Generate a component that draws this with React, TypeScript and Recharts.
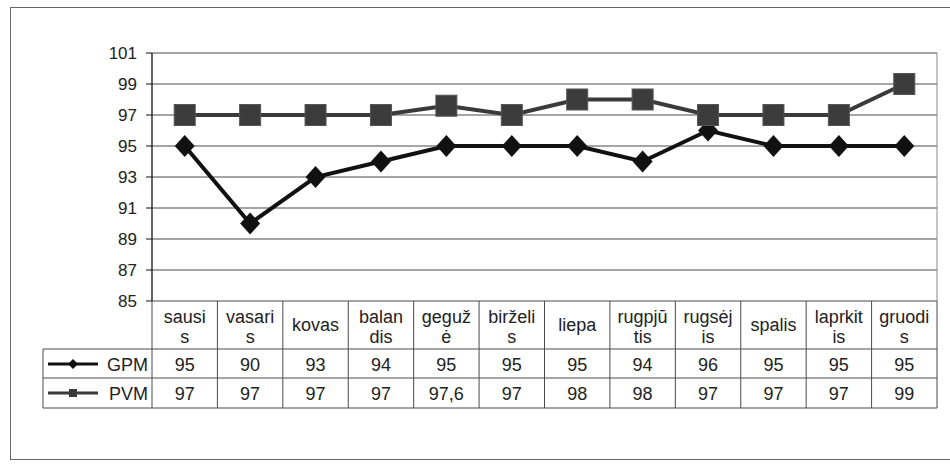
import { LineChart, Line, XAxis, YAxis, CartesianGrid } from 'recharts';

// months (full names) and how they wrap in the data table header
const months = ['sausis', 'vasaris', 'kovas', 'balandis', 'gegužė', 'birželis', 'liepa', 'rugpjūtis', 'rugsėjis', 'spalis', 'laprkitis', 'gruodis'];
const headerLines = [
  ['sausi', 's'], ['vasari', 's'], ['kovas'], ['balan', 'dis'], ['geguž', 'ė'], ['birželi', 's'],
  ['liepa'], ['rugpjū', 'tis'], ['rugsėj', 'is'], ['spalis'], ['laprkit', 'is'], ['gruodi', 's'],
];
const gpm = [95, 90, 93, 94, 95, 95, 95, 94, 96, 95, 95, 95];
const pvm = [97, 97, 97, 97, 97.6, 97, 98, 98, 97, 97, 97, 99];
const yTicks = [85, 87, 89, 91, 93, 95, 97, 99, 101];

const data = months.map((m, i) => ({ month: m, GPM: gpm[i], PVM: pvm[i] }));

const FONT = '"Liberation Sans", Arial, sans-serif';
const PLOT_LEFT = 152;
const PLOT_RIGHT = 937;
const BAND = (PLOT_RIGHT - PLOT_LEFT) / months.length;
// table rows
const T_TOP = 301;
const T_HEAD = 349;
const T_GPM = 378;
const T_PVM = 408;
const LEGEND_LEFT = 43;
const GRID = '#4a4a4a';
const TXT = '#222';
const FS = 18;

const fmt = (v: number) => String(v).replace('.', ',');

function TableTick(props: any) {
  const { x, index, payload } = props;
  const half = payload && payload.offset ? payload.offset : BAND / 2;
  const left = x - half;
  const right = x + half;
  const lines = headerLines[index] || [payload.value];
  const last = index === months.length - 1;
  return (
    <g style={{ fontFamily: FONT }}>
      <line x1={left} y1={T_TOP} x2={left} y2={T_PVM} stroke={GRID} strokeWidth={1} />
      {last && <line x1={right} y1={T_TOP} x2={right} y2={T_PVM} stroke={GRID} strokeWidth={1} />}
      <line x1={left} y1={T_HEAD} x2={right} y2={T_HEAD} stroke={GRID} strokeWidth={1} />
      <line x1={left} y1={T_GPM} x2={right} y2={T_GPM} stroke={GRID} strokeWidth={1} />
      <line x1={left} y1={T_PVM} x2={right} y2={T_PVM} stroke={GRID} strokeWidth={1} />
      {lines.length === 2 ? (
        <>
          <text x={x} y={323} textAnchor="middle" fontSize={FS} fill={TXT}>{lines[0]}</text>
          <text x={x} y={343} textAnchor="middle" fontSize={FS} fill={TXT}>{lines[1]}</text>
        </>
      ) : (
        <text x={x} y={331} textAnchor="middle" fontSize={FS} fill={TXT}>{lines[0]}</text>
      )}
      <text x={x} y={371} textAnchor="middle" fontSize={FS} fill={TXT}>{fmt(gpm[index])}</text>
      <text x={x} y={400} textAnchor="middle" fontSize={FS} fill={TXT}>{fmt(pvm[index])}</text>
      {index === 0 && (
        <g>
          <line x1={LEGEND_LEFT} y1={T_HEAD} x2={left} y2={T_HEAD} stroke={GRID} strokeWidth={1} />
          <line x1={LEGEND_LEFT} y1={T_GPM} x2={left} y2={T_GPM} stroke={GRID} strokeWidth={1} />
          <line x1={LEGEND_LEFT} y1={T_PVM} x2={left} y2={T_PVM} stroke={GRID} strokeWidth={1} />
          <line x1={LEGEND_LEFT} y1={T_HEAD} x2={LEGEND_LEFT} y2={T_PVM} stroke={GRID} strokeWidth={1} />
          {/* GPM key */}
          <line x1={48} y1={364} x2={98} y2={364} stroke="#111" strokeWidth={3} />
          <path d="M73,359 L78,364 L73,369 L68,364 Z" fill="#111" />
          <text x={148} y={371} textAnchor="end" fontSize={FS} fill={TXT}>GPM</text>
          {/* PVM key */}
          <line x1={48} y1={393} x2={98} y2={393} stroke="#3a3a3a" strokeWidth={3} />
          <rect x={69} y={389} width={8} height={8} fill="#3a3a3a" />
          <text x={148} y={400} textAnchor="end" fontSize={FS} fill={TXT}>PVM</text>
        </g>
      )}
    </g>
  );
}

const renderDiamond = (p: any) => {
  if (p.cx == null || p.cy == null) return <g key={p.index} />;
  const r = 11;
  return (
    <path
      key={`d-${p.index}`}
      d={`M${p.cx},${p.cy - r} L${p.cx + r - 1},${p.cy} L${p.cx},${p.cy + r} L${p.cx - r + 1},${p.cy} Z`}
      fill="#111"
    />
  );
};

const renderSquare = (p: any) => {
  if (p.cx == null || p.cy == null) return <g key={p.index} />;
  const s = 21;
  return <rect key={`s-${p.index}`} x={p.cx - s / 2} y={p.cy - s / 2} width={s} height={s} fill="#3c3c3c" stroke="#555" strokeWidth={1} />;
};

export default function App() {
  return (
    <div style={{ position: 'absolute', left: 0, top: 0, width: 950, height: 466, background: '#fff', overflow: 'hidden' }}>
      <div style={{ position: 'absolute', left: 10, top: 7, width: 960, height: 451, border: '1.5px solid #666' }} />
      <div style={{ position: 'absolute', left: 0, top: 0 }}>
        <LineChart width={950} height={466} data={data} margin={{ top: 53, right: 950 - PLOT_RIGHT - 1, bottom: 0, left: 0 }}>
          <CartesianGrid vertical={false} stroke={GRID} strokeWidth={1} />
          <XAxis
            dataKey="month"
            scale="band"
            height={466 - T_TOP}
            axisLine={false}
            tickLine={false}
            interval={0}
            tick={<TableTick />}
          />
          <YAxis
            domain={[85, 101]}
            ticks={yTicks}
            width={PLOT_LEFT}
            axisLine={{ stroke: '#111', strokeWidth: 1.3 }}
            tickLine={{ stroke: '#111' }}
            tickSize={6}
            tickMargin={9}
            tick={{ fontSize: 17, fill: TXT, fontFamily: FONT }}
          />
          <YAxis
            yAxisId="r"
            orientation="right"
            domain={[85, 101]}
            width={1}
            tick={false}
            tickLine={false}
            axisLine={{ stroke: '#888', strokeWidth: 1 }}
          />
          <Line
            dataKey="GPM"
            stroke="#111"
            strokeWidth={4}
            dot={renderDiamond}
            activeDot={false}
            isAnimationActive={false}
          />
          <Line
            dataKey="PVM"
            stroke="#3a3a3a"
            strokeWidth={4}
            dot={renderSquare}
            activeDot={false}
            isAnimationActive={false}
          />
        </LineChart>
      </div>
    </div>
  );
}
